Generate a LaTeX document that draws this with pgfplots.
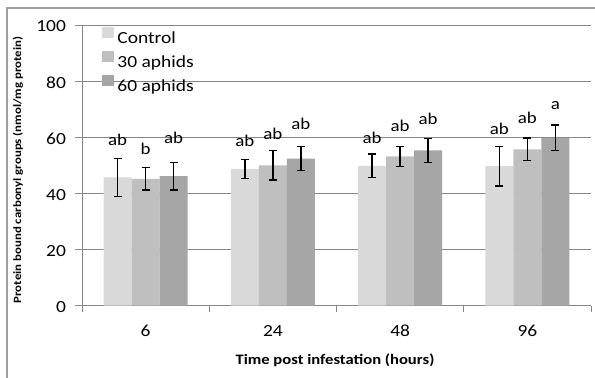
\documentclass[border=0pt]{standalone}
\usepackage{pgfplots}
\pgfplotsset{compat=1.18}
\usepackage{pgfplotstable}
\usepackage{fontspec}
\setmainfont{Carlito}[FakeStretch=1.15]

\definecolor{cctrl}{HTML}{D9D9D9}
\definecolor{cthirty}{HTML}{BFBFBF}
\definecolor{csixty}{HTML}{A6A6A6}
\definecolor{gridc}{HTML}{868686}
\definecolor{framec}{HTML}{A0A0A0}

\pgfplotstableread{
x y err lab laby
0 45.7 6.7 ab 56.9
1 48.6 3.4 ab 56.8
2 49.8 4.2 ab 57.8
3 49.7 7.1 ab 61.0
}\ctrl
\pgfplotstableread{
x y err lab laby
0 45.2 4.0 b 53.7
1 50.0 5.2 ab 59.2
2 53.2 3.6 ab 62.1
3 55.7 4.0 ab 64.9
}\thirty
\pgfplotstableread{
x y err lab laby
0 46.1 4.9 ab 57.9
1 52.4 4.3 ab 62.8
2 55.3 4.2 ab 64.4
3 59.8 4.6 a 69.9
}\sixty

\pgfplotsset{
  mybar/.style={draw=none, fill=#1,
    error bars/.cd, y dir=both, y explicit,
    error bar style={black, line width=1.3bp},
    error mark options={black, rotate=90, mark size=4bp, line width=1.3bp},
    /pgfplots/.cd,
    nodes near coords, point meta=explicit symbolic,
    visualization depends on={\thisrow{laby}-\thisrow{y} \as \dy},
    nodes near coords style={anchor=base, yshift={\dy*2.806bp}, black,
      font=\fontsize{16.5}{18}\selectfont, inner sep=0pt},
    legend image code/.code={\fill[#1] (0bp,1bp) rectangle (12.5bp,11.5bp);}},
}

\begin{document}
\begin{tikzpicture}
\useasboundingbox (0,0) rectangle (595bp,378bp);
\draw[framec, line width=1.3bp] (7bp,-2bp) -- (7bp,370bp) -- (597bp,370bp);
\begin{axis}[
  at={(82bp,72.4bp)}, anchor=south west,
  width=509bp, height=280.6bp, scale only axis,
  ybar=0pt, bar width=28bp,
  xmin=-0.5, xmax=3.5, ymin=0, ymax=100,
  xtick={0,1,2,3}, xticklabels={6,24,48,96},
  minor xtick={-0.5,0.5,1.5,2.5,3.5},
  ytick={0,20,40,60,80,100},
  axis x line=bottom, axis y line=left,
  axis line style={-, gridc, line width=1bp},
  tick align=outside,
  major x tick style={draw=none},
  minor x tick style={gridc, line width=0.8bp},
  major y tick style={gridc, line width=0.8bp},
  major tick length=7bp, minor tick length=6bp,
  ymajorgrids, major grid style={gridc, line width=0.8bp},
  /pgf/number format/assume math mode=true,
  tick label style={font=\fontsize{17}{19}\selectfont},
  xticklabel style={yshift=-9bp},
  yticklabel style={xshift=-5.5bp, yshift=-1.5bp},
  xlabel={\textbf{Time post infestation (hours)}},
  ylabel={\textbf{Protein bound carbonyl groups (nmol/mg protein)}},
  xlabel style={font=\fontsize{14.5}{16}\selectfont, at={(axis description cs:0.497,-0.194)}, anchor=center},
  ylabel style={font=\fontsize{11.2}{13}\selectfont, at={(axis description cs:-0.126,0.483)}, anchor=center, rotate=0},
  legend style={at={(axis description cs:0.0387,0.992)}, anchor=north west, draw=none, fill=none,
    font=\fontsize{17}{19}\selectfont, row sep=4.8bp, column sep=3bp, inner sep=0pt,
    nodes={inner sep=0pt, text height=12bp, text depth=3bp}},
  legend cell align=left,
  clip=false,
]
\addplot[mybar=cctrl] table[x=x, y=y, y error=err, meta=lab]{\ctrl};
\addlegendentry{Control}
\addplot[mybar=cthirty] table[x=x, y=y, y error=err, meta=lab]{\thirty};
\addlegendentry{30 aphids}
\addplot[mybar=csixty] table[x=x, y=y, y error=err, meta=lab]{\sixty};
\addlegendentry{60 aphids}
\end{axis}
\end{tikzpicture}
\end{document}
